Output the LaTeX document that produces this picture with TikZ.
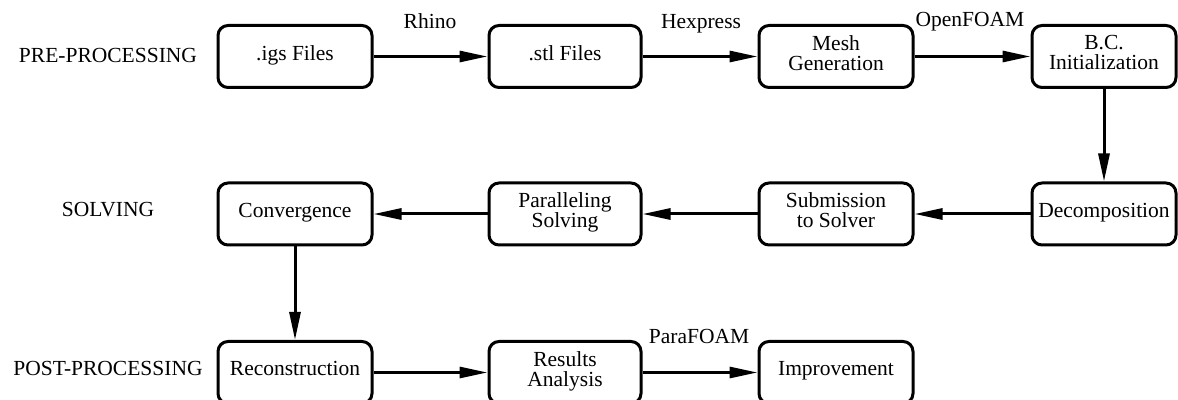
\documentclass[tikz,border=0pt]{standalone}
\usepackage{fontspec}
\setmainfont{Liberation Serif}
\usetikzlibrary{arrows.meta}
\begin{document}
\begin{tikzpicture}[x=0.5pt,y=-0.5pt,
  box/.style={draw, line width=1.5pt, rounded corners=5pt, minimum height=31pt,
    inner sep=0pt, align=center, text depth=3.9pt,
    font=\rmfamily\fontsize{10.75}{10}\selectfont},
  wA/.style={minimum width=77pt},
  wB/.style={minimum width=76pt},
  wC/.style={minimum width=77pt},
  wD/.style={minimum width=72pt},
  stage/.style={font=\rmfamily\fontsize{10.75}{12}\selectfont, inner sep=0pt},
  tool/.style={font=\rmfamily\fontsize{10.75}{12}\selectfont, inner sep=0pt, anchor=base},
  conn/.style={line width=1.5pt, -{Triangle[length=14pt,width=5.5pt]}}]
\useasboundingbox (0,0) rectangle (1178,400);

% stage labels
\node[stage] (pre)  at (108,55)    {PRE-PROCESSING};
\node[stage] (sol)  at (108,209.5) {SOLVING};
\node[stage] (post) at (108,368.5) {POST-PROCESSING};

% row 1
\node[box,wA] (igs)  at (295,56.5)  {.igs Files};
\node[box,wB] (stl)  at (565,56.5)  {.stl Files};
\node[box,wC] (mesh) at (836,56.5)  {Mesh\\Generation};
\node[box,wD] (bc)   at (1104,56.5) {B.C.\\Initialization};

% row 2
\node[box,wA] (conv) at (295,214)  {Convergence};
\node[box,wB] (par)  at (565,214)  {Paralleling\\Solving};
\node[box,wC] (sub)  at (836,214)  {Submission\\to Solver};
\node[box,wD] (dec)  at (1104,214) {Decomposition};

% row 3
\node[box,wA] (rec)  at (295,372.5) {Reconstruction};
\node[box,wB] (res)  at (565,372.5) {Results\\Analysis};
\node[box,wC] (imp)  at (836,372.5) {Improvement};

% tool labels
\node[tool] (rhino) at (430,29)  {Rhino};
\node[tool] (hex)   at (701,29)  {Hexpress};
\node[tool] (of)    at (970,27)  {OpenFOAM};
\node[tool] (pf)    at (699,344) {ParaFOAM};

% connectors
\draw[conn] (igs) -- (stl);
\draw[conn] (stl) -- (mesh);
\draw[conn] (mesh) -- (bc);
\draw[conn] (bc) -- (dec);
\draw[conn] (dec) -- (sub);
\draw[conn] (sub) -- (par);
\draw[conn] (par) -- (conv);
\draw[conn] (conv) -- (rec);
\draw[conn] (rec) -- (res);
\draw[conn] (res) -- (imp);
\end{tikzpicture}
\end{document}
